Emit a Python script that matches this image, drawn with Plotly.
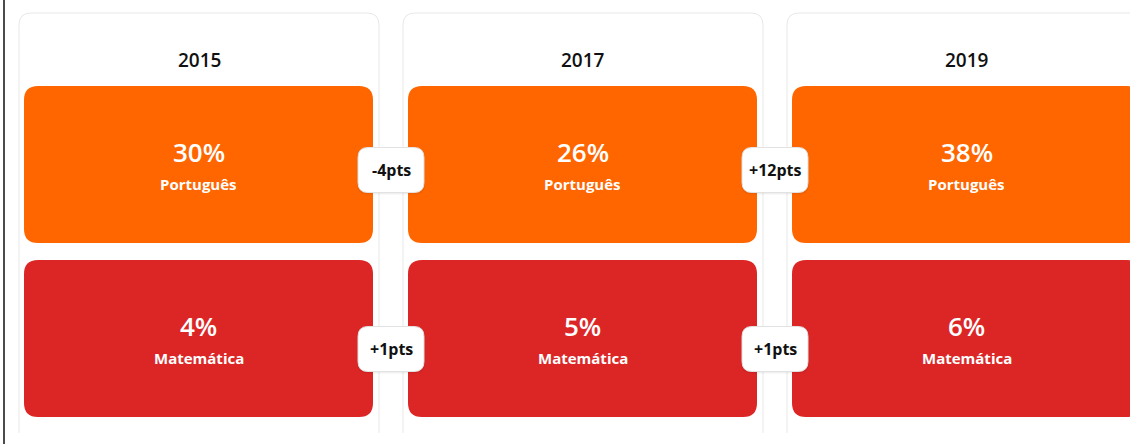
import plotly.graph_objects as go

# ---- data ----
years = ["2015", "2017", "2019"]
subjects = ["Português", "Matemática"]
portugues = [30, 26, 38]
matematica = [4, 5, 6]

series = [portugues, matematica]
colors = ["#FF6600", "#DC2626"]

# ---- layout constants (page pixels) ----
W, H = 1130, 444
CARD_X0, CARD_W, CARD_GAP = 19, 360, 24
CARD_TOP, CARD_BOT = 13, 433
CARD_R = 12
BOX_INSET_L, BOX_INSET_R = 5, 6
BOX_TOPS = [86, 260]
BOX_H = 157
BOX_R = 14
BADGE_W, BADGE_H, BADGE_R = 66, 45, 10
BADGE_YC = [170, 349]
FONT = "'Open Sans', Lato, sans-serif"


def rrect(x0, y0, x1, y1, r):
    return (f"M {x0+r},{y0} H {x1-r} Q {x1},{y0} {x1},{y0+r} V {y1-r} "
            f"Q {x1},{y1} {x1-r},{y1} H {x0+r} Q {x0},{y1} {x0},{y1-r} "
            f"V {y0+r} Q {x0},{y0} {x0+r},{y0} Z")


def open_card(x0, y0, x1, y1, r):
    return (f"M {x0},{y1} V {y0+r} Q {x0},{y0} {x0+r},{y0} H {x1-r} "
            f"Q {x1},{y0} {x1},{y0+r} V {y1}")


shapes = []
annotations = []

# left border line
shapes.append(dict(type="line", xref="x", yref="y", x0=4, x1=4, y0=0, y1=H,
                   line=dict(color="#111111", width=1.5), layer="above"))

for i, year in enumerate(years):
    cx0 = CARD_X0 + i * (CARD_W + CARD_GAP)
    cx1 = cx0 + CARD_W
    ccx = (cx0 + cx1) / 2
    shapes.append(dict(type="path", xref="x", yref="y",
                       path=open_card(cx0, CARD_TOP, cx1, CARD_BOT, CARD_R),
                       line=dict(color="#E8E8E8", width=1), fillcolor="rgba(0,0,0,0)",
                       layer="below"))
    annotations.append(dict(x=ccx, y=60, xref="x", yref="y", text=year,
                            showarrow=False, font=dict(size=19, color="#111111",
                                                       family=FONT, weight=600)))
    for s, vals in enumerate(series):
        bx0 = cx0 + BOX_INSET_L
        bx1 = cx1 - BOX_INSET_R
        by0 = BOX_TOPS[s]
        by1 = by0 + BOX_H
        shapes.append(dict(type="path", xref="x", yref="y",
                           path=rrect(bx0, by0, bx1, by1, BOX_R),
                           line=dict(width=0), fillcolor=colors[s], layer="below"))
        bcx = (bx0 + bx1) / 2
        annotations.append(dict(x=bcx, y=by0 + 66, xref="x", yref="y",
                                text=f"{vals[i]}%", showarrow=False,
                                font=dict(size=26, color="white", family=FONT, weight=600)))
        annotations.append(dict(x=bcx, y=by0 + 98, xref="x", yref="y",
                                text=subjects[s], showarrow=False,
                                font=dict(size=15, color="white", family=FONT, weight=700)))

# delta badges between consecutive years
for i in range(len(years) - 1):
    gx = CARD_X0 + (i + 1) * (CARD_W + CARD_GAP) - CARD_GAP / 2
    for s, vals in enumerate(series):
        d = vals[i + 1] - vals[i]
        label = f"{'+' if d > 0 else ''}{d}pts"
        yc = BADGE_YC[s]
        x0, x1 = gx - BADGE_W / 2, gx + BADGE_W / 2
        y0, y1 = yc - BADGE_H / 2, yc + BADGE_H / 2
        shapes.append(dict(type="path", xref="x", yref="y",
                           path=rrect(x0 - 1, y0, x1 + 1, y1 + 2, BADGE_R),
                           line=dict(width=0), fillcolor="rgba(0,0,0,0.06)", layer="above"))
        shapes.append(dict(type="path", xref="x", yref="y",
                           path=rrect(x0, y0, x1, y1, BADGE_R),
                           line=dict(color="#E2E2E2", width=1), fillcolor="white",
                           layer="above"))
        annotations.append(dict(x=gx, y=yc, xref="x", yref="y", text=label,
                                showarrow=False,
                                font=dict(size=16, color="#111111", family=FONT, weight=700)))

fig = go.Figure()
fig.update_layout(
    width=W, height=H,
    margin=dict(l=0, r=0, t=0, b=0),
    paper_bgcolor="white", plot_bgcolor="white",
    xaxis=dict(range=[0, W], visible=False, fixedrange=True),
    yaxis=dict(range=[H, 0], visible=False, fixedrange=True),
    shapes=shapes, annotations=annotations,
    showlegend=False,
)
fig.write_html("out.html", config={"displayModeBar": False},
               post_script="document.body.style.margin='0';document.body.style.overflow='hidden';")
